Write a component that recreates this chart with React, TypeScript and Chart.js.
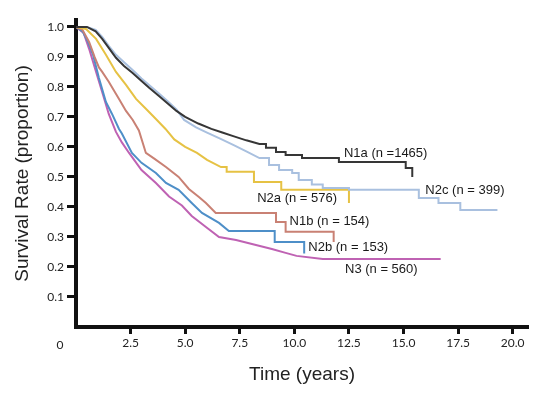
import React, { useEffect, useRef } from 'react';
import { Chart, registerables } from 'chart.js';

Chart.register(...registerables);

// Tick values
const X_TICKS = [2.5, 5, 7.5, 10, 12.5, 15, 17.5, 20];
const Y_TICKS = [0.1, 0.2, 0.3, 0.4, 0.5, 0.6, 0.7, 0.8, 0.9, 1.0];

// Survival curves: [time (years), survival proportion]
const N1A: [number, number][] = [
  [0, 1], [0.5, 1], [0.9, 0.985], [1.2, 0.96], [1.5, 0.93], [1.83, 0.897], [2.2, 0.87],
  [2.58, 0.847], [3.0, 0.82], [3.35, 0.797], [3.8, 0.77], [4.2, 0.745], [4.6, 0.72],
  [5.0, 0.7], [5.6, 0.678], [6.2, 0.66], [6.7, 0.648], [7.2, 0.636], [7.8, 0.622],
  [8.4, 0.61], [8.7, 0.61], [8.7, 0.597], [9.16, 0.597], [9.16, 0.583], [9.6, 0.583],
  [9.6, 0.573], [10.35, 0.573], [10.35, 0.563], [12.04, 0.563], [12.04, 0.55],
  [15.1, 0.55], [15.1, 0.53], [15.4, 0.53], [15.4, 0.5],
];
const N2C: [number, number][] = [
  [0, 1], [0.5, 1], [0.9, 0.99], [1.2, 0.967], [1.5, 0.937], [1.83, 0.907], [2.2, 0.882],
  [2.58, 0.857], [3.0, 0.828], [3.4, 0.803], [3.8, 0.778], [4.2, 0.752], [4.6, 0.725],
  [4.95, 0.69], [5.5, 0.665], [6.0, 0.648], [6.6, 0.628], [7.2, 0.607], [7.8, 0.585],
  [8.4, 0.563], [8.84, 0.563], [8.84, 0.54], [9.3, 0.54], [9.3, 0.523], [9.9, 0.523],
  [9.9, 0.513], [10.2, 0.513], [10.2, 0.49], [10.8, 0.49], [10.8, 0.475], [11.3, 0.475],
  [11.3, 0.463], [12.5, 0.463], [12.5, 0.457], [15.7, 0.457], [15.7, 0.43], [16.6, 0.43],
  [16.6, 0.413], [17.6, 0.413], [17.6, 0.39], [19.3, 0.39],
];
const N2A: [number, number][] = [
  [0, 1], [0.46, 0.993], [0.92, 0.96], [1.37, 0.907], [1.83, 0.85], [2.29, 0.807],
  [2.75, 0.76], [3.2, 0.727], [3.66, 0.693], [4.1, 0.66], [4.5, 0.625], [5.0, 0.6],
  [5.54, 0.58], [6.0, 0.557], [6.64, 0.533], [6.9, 0.533], [6.9, 0.517], [8.15, 0.517],
  [8.15, 0.483], [9.4, 0.483], [9.4, 0.457], [12.5, 0.457], [12.5, 0.413],
];
const N1B: [number, number][] = [
  [0, 1], [0.3, 0.99], [0.6, 0.95], [0.85, 0.9], [1.05, 0.865], [1.2, 0.85], [1.5, 0.817],
  [1.97, 0.76], [2.29, 0.72], [2.6, 0.69], [2.88, 0.655], [3.2, 0.58], [3.6, 0.56],
  [4.12, 0.533], [4.7, 0.5], [5.17, 0.46], [5.63, 0.433], [5.95, 0.413], [6.4, 0.38],
  [9.16, 0.38], [9.16, 0.35], [9.6, 0.35], [9.6, 0.317], [11.8, 0.317], [11.8, 0.283],
];
const N2B: [number, number][] = [
  [0, 1], [0.3, 0.985], [0.55, 0.95], [0.78, 0.907], [1.05, 0.83], [1.37, 0.75],
  [1.65, 0.71], [1.97, 0.66], [2.1, 0.645], [2.56, 0.58], [3.0, 0.547], [3.66, 0.513],
  [4.12, 0.48], [4.7, 0.457], [5.3, 0.413], [5.77, 0.38], [6.55, 0.347], [7.0, 0.32],
  [9.1, 0.32], [9.1, 0.283], [10.45, 0.283], [10.45, 0.245],
];
const N3: [number, number][] = [
  [0, 1], [0.35, 0.98], [0.6, 0.927], [0.92, 0.85], [1.24, 0.773], [1.5, 0.71],
  [1.83, 0.65], [2.1, 0.615], [2.43, 0.58], [3.0, 0.523], [3.66, 0.48], [4.26, 0.435],
  [4.85, 0.405], [5.3, 0.37], [5.95, 0.333], [6.55, 0.3], [7.33, 0.29], [8.24, 0.273],
  [8.97, 0.26], [9.6, 0.247], [10.1, 0.237], [11.3, 0.227], [16.7, 0.227],
];

const SERIES = [N1A, N2C, N2A, N1B, N2B, N3];
const SERIES_NAMES = ['N1a', 'N2c', 'N2a', 'N1b', 'N2b', 'N3'];
const SERIES_COLORS = ['#363636', '#a9c0df', '#e6c244', '#c98174', '#4e8fc8', '#bf62b3'];
const LABELS = ['N1a (n =1465)', 'N2c (n = 399)', 'N2a (n = 576)', 'N1b (n = 154)', 'N2b (n = 153)', 'N3 (n = 560)'];
const LABEL_AT: [number, number][] = [
  [12.27, 0.578], [16.0, 0.454], [8.3, 0.428], [9.78, 0.351], [10.64, 0.264], [12.32, 0.193],
];

const TICK_FONT = { family: 'Lato, "Liberation Sans", sans-serif', size: 12 };
const TITLE_FONT = { family: '"Liberation Sans", Arial, sans-serif', size: 19 };

const annotPlugin = {
  id: 'annot',
  afterDatasetsDraw(chart: any) {
    const { ctx, scales, chartArea } = chart;
    const xs = scales.x;
    const ys = scales.y;
    ctx.save();
    ctx.font = '13px "Liberation Sans", Arial, sans-serif';
    ctx.fillStyle = '#1a1a1a';
    ctx.textAlign = 'left';
    ctx.textBaseline = 'middle';
    LABELS.forEach((txt, i) => {
      ctx.fillText(txt, xs.getPixelForValue(LABEL_AT[i][0]), ys.getPixelForValue(LABEL_AT[i][1]));
    });
    ctx.font = '12px Lato, "Liberation Sans", sans-serif';
    ctx.fillStyle = '#222';
    ctx.textAlign = 'center';
    ctx.fillText('0', chartArea.left - 16, chartArea.bottom + 18);
    ctx.restore();
  },
};

export default function App() {
  const ref = useRef<HTMLCanvasElement | null>(null);
  useEffect(() => {
    if (!ref.current) return;
    const chart = new Chart(ref.current, {
      type: 'line',
      data: {
        datasets: SERIES.map((s, i) => ({
          label: SERIES_NAMES[i],
          data: s.map(([t, v]) => ({ x: t, y: v })),
          borderColor: SERIES_COLORS[i],
          backgroundColor: SERIES_COLORS[i],
          borderWidth: 2,
          pointRadius: 0,
          tension: 0,
          fill: false,
        })),
      },
      options: {
        responsive: false,
        animation: false,
        devicePixelRatio: 1,
        layout: { padding: { top: 20, right: 8, left: 0, bottom: 0 } },
        plugins: { legend: { display: false }, tooltip: { enabled: false } },
        scales: {
          x: {
            type: 'linear',
            min: 0,
            max: 20.7,
            afterBuildTicks: (scale: any) => {
              scale.ticks = X_TICKS.map((v) => ({ value: v }));
            },
            afterFit: (scale: any) => {
              scale.height = 69;
            },
            ticks: {
              autoSkip: false,
              maxRotation: 0,
              padding: 2,
              color: '#222',
              font: TICK_FONT,
              callback: (v: any) => Number(v).toFixed(1),
            },
            grid: {
              drawOnChartArea: false,
              drawTicks: true,
              tickLength: 7,
              tickWidth: 3,
              tickColor: '#111',
            },
            border: { display: true, width: 4, color: '#111' },
            title: {
              display: true,
              text: 'Time (years)',
              color: '#222',
              font: TITLE_FONT,
              padding: { top: 0, bottom: 10 },
            },
          },
          y: {
            type: 'linear',
            min: 0,
            max: 1.023,
            afterBuildTicks: (scale: any) => {
              scale.ticks = Y_TICKS.map((v) => ({ value: v }));
            },
            afterFit: (scale: any) => {
              scale.width = 76;
            },
            ticks: {
              autoSkip: false,
              padding: 3,
              color: '#222',
              font: TICK_FONT,
              callback: (v: any) => Number(v).toFixed(1),
            },
            grid: {
              drawOnChartArea: false,
              drawTicks: true,
              tickLength: 9,
              tickWidth: 3,
              tickColor: '#111',
            },
            border: { display: true, width: 4, color: '#111' },
            title: {
              display: true,
              text: 'Survival Rate (proportion)',
              color: '#222',
              font: TITLE_FONT,
              padding: { top: 11, bottom: 0 },
            },
          },
        },
      },
      plugins: [annotPlugin],
    } as any);
    return () => chart.destroy();
  }, []);
  return (
    <div style={{ position: 'fixed', left: 0, top: 0, width: 536, height: 396, background: '#fff' }}>
      <canvas ref={ref} width={536} height={396} />
    </div>
  );
}
